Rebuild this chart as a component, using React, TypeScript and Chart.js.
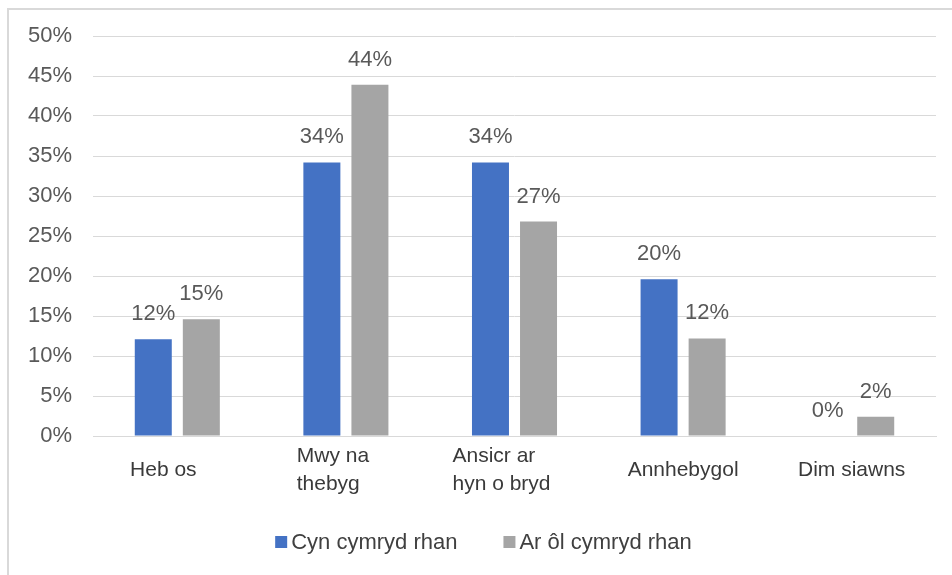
import React, { useEffect, useRef } from "react";
import { Chart, registerables } from "chart.js";

Chart.register(...registerables);

const categories: string[][] = [["Heb os"], ["Mwy na", "thebyg"], ["Ansicr ar", "hyn o bryd"], ["Annhebygol"], ["Dim siawns"]];
const seriesNames = ["Cyn cymryd rhan", "Ar ôl cymryd rhan"];
const cynValues = [12.1, 34.2, 34.2, 19.6, 0];
const arOlValues = [14.6, 43.9, 26.8, 12.2, 2.4];
const seriesColors = ["#4472C4", "#A5A5A5"];
const yMax = 50;
const yStep = 5;

const FONT = "'Liberation Sans', Arial, sans-serif";
// horizontal nudge of category labels (px), as in the original layout
const labelNudge = [-14, -13, -13, 0, 0];

const dataLabelPlugin = {
  id: "dataLabels",
  afterDatasetsDraw(chart: any) {
    const ctx = chart.ctx;
    ctx.save();
    ctx.font = `22px ${FONT}`;
    ctx.fillStyle = "#595959";
    ctx.textAlign = "center";
    ctx.textBaseline = "bottom";
    chart.data.datasets.forEach((ds: any, i: number) => {
      const meta = chart.getDatasetMeta(i);
      meta.data.forEach((el: any, j: number) => {
        const v = ds.data[j];
        ctx.fillText(`${Math.round(v)}%`, el.x, el.y - 14);
      });
    });
    ctx.restore();
  },
};

const xLabelPlugin = {
  id: "xLabels",
  afterDraw(chart: any) {
    const ctx = chart.ctx;
    const scale = chart.scales.x;
    ctx.save();
    ctx.font = `21px ${FONT}`;
    ctx.fillStyle = "#3a3a3a";
    ctx.textBaseline = "middle";
    ctx.textAlign = "left";
    const lineH = 28;
    const centerY = chart.chartArea.bottom + 34;
    chart.data.labels.forEach((lbl: any, i: number) => {
      const lines: string[] = Array.isArray(lbl) ? lbl : [lbl];
      const w = Math.max(...lines.map((l) => ctx.measureText(l).width));
      const cx = scale.getPixelForTick(i) + (labelNudge[i] || 0);
      const x0 = cx - w / 2;
      const y0 = centerY - ((lines.length - 1) * lineH) / 2;
      lines.forEach((l, k) => ctx.fillText(l, x0, y0 + k * lineH));
    });
    ctx.restore();
  },
};

const legendPlugin = {
  id: "customLegend",
  afterDraw(chart: any) {
    const ctx = chart.ctx;
    ctx.save();
    ctx.font = `22px ${FONT}`;
    ctx.textBaseline = "middle";
    ctx.textAlign = "left";
    const box = 12;
    const gap = 4;
    const spacing = 46;
    const items = chart.data.datasets.map((ds: any) => ({
      label: ds.label,
      color: ds.backgroundColor,
      w: box + gap + ctx.measureText(ds.label).width,
    }));
    const total = items.reduce((s: number, it: any) => s + it.w, 0) + spacing * (items.length - 1);
    let x = (chart.width - total) / 2 + 3;
    const y = 532;
    items.forEach((it: any) => {
      ctx.fillStyle = it.color;
      ctx.fillRect(x, y - box / 2, box, box);
      ctx.fillStyle = "#404040";
      ctx.fillText(it.label, x + box + gap, y + 1);
      x += it.w + spacing;
    });
    ctx.restore();
  },
};

export default function App() {
  const ref = useRef<HTMLCanvasElement | null>(null);
  useEffect(() => {
    if (!ref.current) return;
    const chart = new Chart(ref.current, {
      type: "bar",
      data: {
        labels: categories,
        datasets: [
          { label: seriesNames[0], data: cynValues, backgroundColor: seriesColors[0], categoryPercentage: 0.57, barPercentage: 0.77 },
          { label: seriesNames[1], data: arOlValues, backgroundColor: seriesColors[1], categoryPercentage: 0.57, barPercentage: 0.77 },
        ],
      },
      options: {
        animation: false,
        responsive: false,
        maintainAspectRatio: false,
        layout: { padding: { top: 26, right: 16, left: 0, bottom: 69 } },
        plugins: {
          legend: { display: false },
          tooltip: { enabled: false },
        },
        scales: {
          x: {
            grid: { display: false, drawTicks: false },
            border: { display: true, color: "#d9d9d9", width: 1 },
            ticks: { display: false, autoSkip: false },
            afterFit(scale: any) {
              scale.height = 70;
            },
          },
          y: {
            min: 0,
            max: yMax,
            grid: { color: "#d9d9d9", lineWidth: 1, drawTicks: false },
            border: { display: false },
            ticks: {
              stepSize: yStep,
              font: { family: FONT, size: 22 },
              color: "#595959",
              padding: 21,
              callback: (v: any) => `${v}%`,
            },
            afterFit(scale: any) {
              scale.width = 84;
              scale.paddingTop = 8;
              scale.paddingBottom = 8;
            },
          },
        },
      },
      plugins: [dataLabelPlugin, xLabelPlugin, legendPlugin],
    });
    return () => chart.destroy();
  }, []);

  return (
    <div
      style={{
        position: "fixed",
        left: 7,
        top: 8,
        right: 0,
        bottom: 0,
        borderTop: "2px solid #d9d9d9",
        borderLeft: "2px solid #d9d9d9",
        background: "#fff",
        overflow: "hidden",
      }}
    >
      <canvas ref={ref} width={943} height={565} style={{ display: "block" }} />
    </div>
  );
}
